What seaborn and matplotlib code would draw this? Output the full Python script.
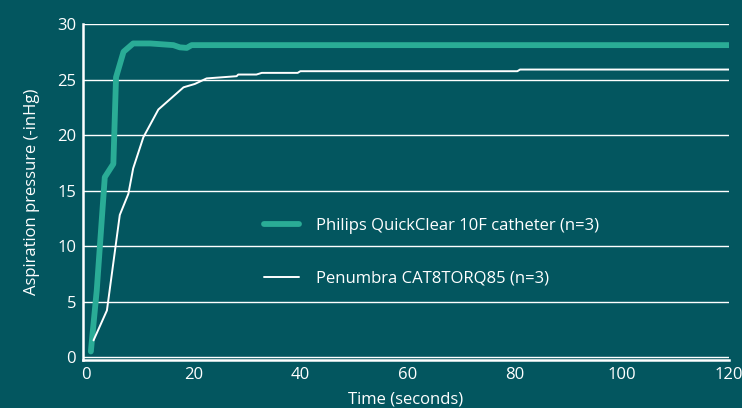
import numpy as np
import pandas as pd
import matplotlib
matplotlib.use("Agg")
import matplotlib.pyplot as plt
import seaborn as sns

# values
philips_t = [0.9, 2.0, 3.5, 5.1, 5.6, 7.0, 8.8, 12.0, 16.3, 17.5, 18.8, 19.7, 25, 40, 60, 80, 100, 120]
philips_p = [0.5, 6.0, 16.2, 17.4, 25.2, 27.5, 28.25, 28.25, 28.1, 27.9, 27.85, 28.1, 28.1, 28.1, 28.1, 28.1, 28.1, 28.1]

penumbra_t = [1.4, 3.9, 6.3, 7.9, 8.8, 10.7, 13.5, 18.2, 20.3, 22.5, 28.1, 28.4, 31.8, 32.8, 39.5, 40.0, 80.5, 81.0, 120]
penumbra_p = [1.5, 4.2, 12.8, 14.7, 17.0, 19.8, 22.3, 24.3, 24.6, 25.1, 25.3, 25.45, 25.45, 25.6, 25.6, 25.75, 25.75, 25.9, 25.9]

labels = ["Philips QuickClear 10F catheter (n=3)", "Penumbra CAT8TORQ85 (n=3)"]

BG = "#03565f"
GREEN = "#2aac96"

df = pd.concat([
    pd.DataFrame({"t": philips_t, "p": philips_p, "device": labels[0]}),
    pd.DataFrame({"t": penumbra_t, "p": penumbra_p, "device": labels[1]}),
])

sns.set_style("white")
plt.rcParams["font.family"] = ["Open Sans", "DejaVu Sans"]

fig = plt.figure(figsize=(7.42, 4.08), dpi=100, facecolor=BG)
ax = fig.add_axes([0.1119, 0.1176, 0.8706, 0.8235])
ax.set_facecolor(BG)

sns.lineplot(data=df, x="t", y="p", hue="device", size="device",
             palette={labels[0]: GREEN, labels[1]: "white"},
             sizes={labels[0]: 4.2, labels[1]: 1.4},
             estimator=None, sort=False, ax=ax, legend=True)

ax.set_xlim(-0.56, 120)
ax.set_ylim(-0.27, 30)
ax.set_xticks([0, 20, 40, 60, 80, 100, 120])
ax.set_yticks([0, 5, 10, 15, 20, 25, 30])
ax.yaxis.grid(True, color="white", linewidth=1.0)
ax.set_axisbelow(True)

for s in ["top", "right"]:
    ax.spines[s].set_visible(False)
for s in ["left", "bottom"]:
    ax.spines[s].set_color("white")
    ax.spines[s].set_linewidth(1.8)

ax.tick_params(colors="white", labelsize=12, length=0, pad=5)
ax.set_xlabel("Time (seconds)", color="white", fontsize=12, labelpad=6)
ax.set_ylabel("Aspiration pressure (-inHg)", color="white", fontsize=12, labelpad=12)

leg = ax.legend(loc="upper left", bbox_to_anchor=(0.257, 0.467), frameon=False,
                fontsize=12, labelspacing=2.2, handlelength=2.1, handletextpad=1.0)
for txt in leg.get_texts():
    txt.set_color("white")
for line in leg.get_lines():
    line.set_solid_capstyle("round")

fig.savefig("out.png", dpi=100, facecolor=BG)
